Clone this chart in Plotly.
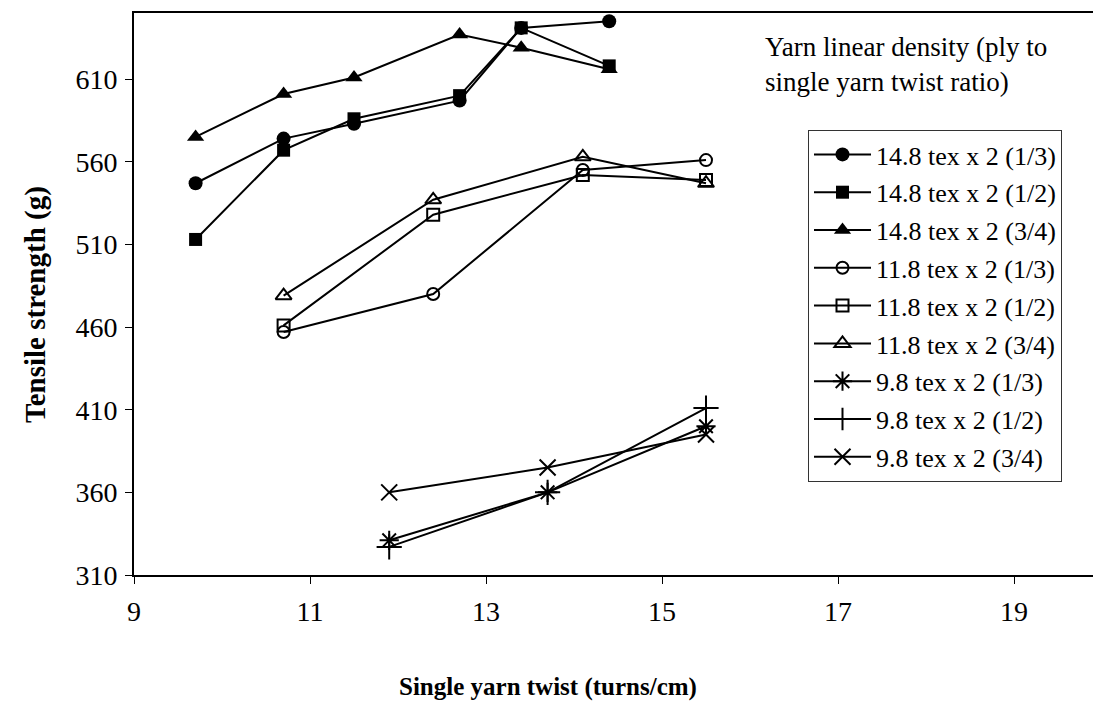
import plotly.graph_objects as go

# ---- data ----
x_148 = [9.7, 10.7, 11.5, 12.7, 13.4, 14.4]
y_148_13 = [547, 574, 583, 597, 641, 645]
y_148_12 = [513, 567, 586, 600, 641, 618]
y_148_34 = [575, 601, 611, 637, 629, 616]

x_118 = [10.7, 12.4, 14.1, 15.5]
y_118_13 = [457, 480, 555, 561]
y_118_12 = [461, 528, 552, 549]
y_118_34 = [479, 537, 563, 547]

x_98 = [11.9, 13.7, 15.5]
y_98_13 = [331, 360, 400]
y_98_12 = [327, 360, 411]
y_98_34 = [360, 375, 395]

names = [
    "14.8 tex x 2 (1/3)", "14.8 tex x 2 (1/2)", "14.8 tex x 2 (3/4)",
    "11.8 tex x 2 (1/3)", "11.8 tex x 2 (1/2)", "11.8 tex x 2 (3/4)",
    "9.8 tex x 2 (1/3)", "9.8 tex x 2 (1/2)", "9.8 tex x 2 (3/4)",
]
xs = [x_148, x_148, x_148, x_118, x_118, x_118, x_98, x_98, x_98]
ys = [y_148_13, y_148_12, y_148_34, y_118_13, y_118_12, y_118_34,
      y_98_13, y_98_12, y_98_34]
symbols = ["circle", "square", "triangle-up",
           "circle-open", "square-open", "triangle-up-open",
           "asterisk-open", "cross-thin-open", "x-thin-open"]
sizes = [14, 13, 15, 12, 12, 14, 16, 18, 16]

x_ticks = [9, 11, 13, 15, 17, 19]
y_ticks = [310, 360, 410, 460, 510, 560, 610]

FONT = "Liberation Serif, Times New Roman, serif"

fig = go.Figure()
for i, (n, x, y, s, sz) in enumerate(zip(names, xs, ys, symbols, sizes)):
    fig.add_trace(go.Scatter(
        x=x, y=y, name=n, mode="lines+markers",
        legendgroup=f"g{i}",
        line=dict(color="black", width=2),
        marker=dict(symbol=s, size=sz, color="black",
                    line=dict(color="black", width=2 if "open" in s else 0)),
    ))

W, H = 1093, 704
L, R, T, B = 134, 0, 13, 704 - 575
pw, ph = W - L - R, H - T - B

def px_x(p):
    return (p - L) / pw

def px_y(p):
    return (575 - p) / ph

fig.update_layout(
    width=W, height=H,
    margin=dict(l=L, r=R, t=T, b=B),
    paper_bgcolor="white", plot_bgcolor="white",
    font=dict(family=FONT, color="black", size=27),
    showlegend=True,
    legend=dict(
        x=px_x(808), y=px_y(130), xanchor="left", yanchor="top",
        bordercolor="#333", borderwidth=1, bgcolor="white",
        font=dict(family=FONT, size=26, color="black"),
        traceorder="grouped", tracegroupgap=1, itemwidth=57,
    ),
    xaxis=dict(
        range=[9, 9 + pw / 88.0], tickvals=x_ticks,
        showline=True, linecolor="black", linewidth=2, mirror=True,
        ticks="outside", ticklen=7, tickcolor="black", tickwidth=1,
        showgrid=False, zeroline=False,
        tickfont=dict(family=FONT, size=28), ticklabelstandoff=3,
    ),
    yaxis=dict(
        range=[310, 650], tickvals=y_ticks,
        showline=True, linecolor="black", linewidth=2, mirror=False,
        ticks="outside", ticklen=7, tickcolor="black", tickwidth=1,
        showgrid=False, zeroline=False,
        tickfont=dict(family=FONT, size=28), ticklabelstandoff=2,
    ),
    annotations=[
        dict(text="Yarn linear density (ply to<br>single yarn twist ratio)",
             xref="paper", yref="paper", x=px_x(763), y=px_y(30),
             xanchor="left", yanchor="top", align="left", showarrow=False,
             font=dict(family=FONT, size=27)),
        dict(text="<b>Tensile strength (g)</b>", xref="paper", yref="paper",
             x=px_x(35), y=px_y(305), xanchor="center", yanchor="middle",
             textangle=-90, showarrow=False, font=dict(family=FONT, size=29)),
        dict(text="<b>Single yarn twist (turns/cm)</b>", xref="paper", yref="paper",
             x=px_x(548), y=px_y(687), xanchor="center", yanchor="middle",
             showarrow=False, font=dict(family=FONT, size=25)),
    ],
)

fig.write_html(
    "out.html",
    config={"displayModeBar": False},
    post_script="document.body.style.margin='0';document.body.style.overflow='hidden';",
)
